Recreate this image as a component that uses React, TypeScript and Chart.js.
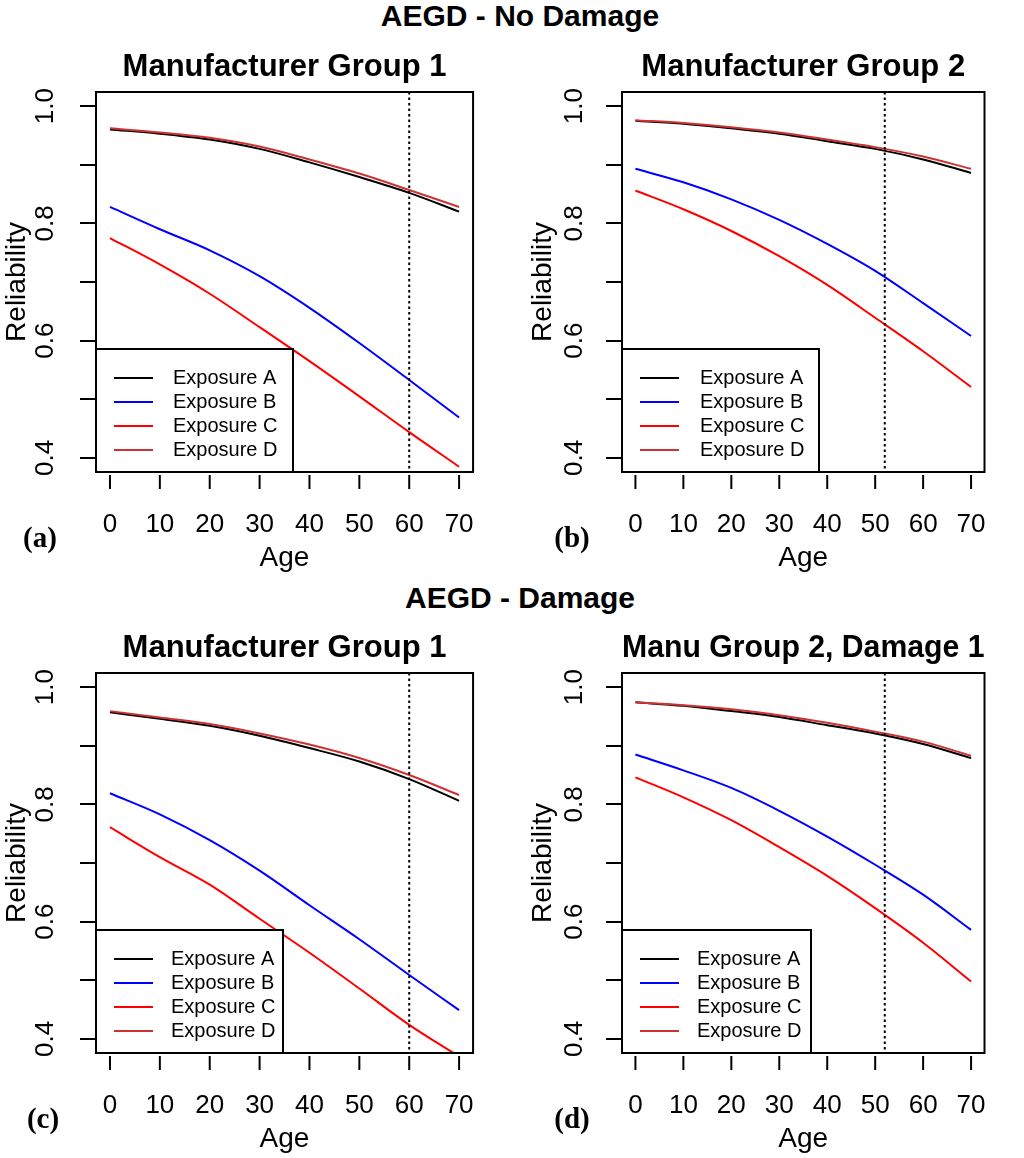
import React, { useEffect, useRef } from "react";
import { Chart, registerables } from "chart.js";

Chart.register(...registerables);

const ages = [0, 10, 20, 30, 40, 50, 60, 70];
const xTicks = [0, 10, 20, 30, 40, 50, 60, 70];
const yTicks = [0.4, 0.5, 0.6, 0.7, 0.8, 0.9, 1.0];
const exposureNames = ["Exposure A", "Exposure B", "Exposure C", "Exposure D"];
const exposureColors = ["#000000", "#0000ff", "#ff0000", "#cd3333"];
// lower order is painted last (on top)
const drawOrder = [3, 2, 1, 0];

// (a) No damage, manufacturer group 1
const noDmgG1A = [0.96, 0.953, 0.943, 0.927, 0.904, 0.879, 0.852, 0.82];
const noDmgG1B = [0.828, 0.79, 0.754, 0.71, 0.656, 0.596, 0.533, 0.469];
const noDmgG1C = [0.775, 0.73, 0.68, 0.623, 0.565, 0.505, 0.444, 0.385];
const noDmgG1D = [0.962, 0.955, 0.946, 0.931, 0.909, 0.885, 0.857, 0.828];

// (b) No damage, manufacturer group 2
const noDmgG2A = [0.975, 0.97, 0.962, 0.953, 0.94, 0.927, 0.909, 0.886];
const noDmgG2B = [0.893, 0.87, 0.841, 0.806, 0.765, 0.719, 0.664, 0.608];
const noDmgG2C = [0.856, 0.824, 0.787, 0.744, 0.695, 0.639, 0.582, 0.521];
const noDmgG2D = [0.976, 0.971, 0.964, 0.955, 0.943, 0.93, 0.914, 0.893];

// (c) Damage, manufacturer group 1
const dmgG1A = [0.957, 0.946, 0.934, 0.917, 0.896, 0.873, 0.843, 0.806];
const dmgG1B = [0.819, 0.783, 0.739, 0.687, 0.628, 0.57, 0.509, 0.449];
const dmgG1C = [0.761, 0.71, 0.663, 0.605, 0.547, 0.486, 0.424, 0.37];
const dmgG1D = [0.959, 0.948, 0.937, 0.921, 0.902, 0.879, 0.85, 0.816];

// (d) Manu group 2, damage 1
const dmgG2A = [0.974, 0.968, 0.959, 0.949, 0.935, 0.921, 0.903, 0.879];
const dmgG2B = [0.885, 0.858, 0.828, 0.789, 0.745, 0.697, 0.646, 0.586];
const dmgG2C = [0.846, 0.812, 0.773, 0.727, 0.678, 0.623, 0.564, 0.498];
const dmgG2D = [0.974, 0.969, 0.962, 0.952, 0.939, 0.924, 0.907, 0.883];

const SANS = '"Liberation Sans", Arial, Helvetica, sans-serif';
const SERIF = '"Liberation Serif", "Times New Roman", serif';

type PanelSpec = {
  title: string;
  series: number[][];
  refAge: number;
  left: number;
  top: number;
  height: number;
  yAxisW: number;
  padRight: number;
  padBottom: number;
  yTitlePad: number;
  yTickPad: number;
  legendW: number;
  legendTextX: number;
};

const panels: PanelSpec[] = [
  {
    title: "Manufacturer Group 1",
    series: [noDmgG1A, noDmgG1B, noDmgG1C, noDmgG1D],
    refAge: 60,
    left: 0, top: 40, height: 540,
    yAxisW: 96, padRight: 20, padBottom: 5,
    yTitlePad: 0, yTickPad: 16,
    legendW: 197, legendTextX: 77,
  },
  {
    title: "Manufacturer Group 2",
    series: [noDmgG2A, noDmgG2B, noDmgG2C, noDmgG2D],
    refAge: 52,
    left: 512, top: 40, height: 540,
    yAxisW: 110, padRight: 6, padBottom: 5,
    yTitlePad: 14, yTickPad: 13,
    legendW: 197, legendTextX: 78,
  },
  {
    title: "Manufacturer Group 1",
    series: [dmgG1A, dmgG1B, dmgG1C, dmgG1D],
    refAge: 60,
    left: 0, top: 621, height: 537,
    yAxisW: 96, padRight: 20, padBottom: 2,
    yTitlePad: 0, yTickPad: 16,
    legendW: 187, legendTextX: 75,
  },
  {
    title: "Manu Group 2, Damage 1",
    series: [dmgG2A, dmgG2B, dmgG2C, dmgG2D],
    refAge: 52,
    left: 512, top: 621, height: 537,
    yAxisW: 110, padRight: 6, padBottom: 2,
    yTitlePad: 14, yTickPad: 13,
    legendW: 189, legendTextX: 75,
  },
];

const Panel = ({ spec }: { spec: PanelSpec }) => {
  const ref = useRef<HTMLCanvasElement>(null);

  useEffect(() => {
    const canvas = ref.current;
    if (!canvas) return;

    // frame, x tick marks, dotted reference line and the R-style legend
    const deco = {
      id: "deco",
      afterDatasetsDraw(chart: any) {
        const { ctx, chartArea: a } = chart;
        const xs = chart.scales.x;
        ctx.save();
        ctx.strokeStyle = "#000";

        const vx = xs.getPixelForValue(spec.refAge);
        ctx.lineWidth = 2;
        ctx.setLineDash([2.5, 3]);
        ctx.beginPath();
        ctx.moveTo(vx, a.top);
        ctx.lineTo(vx, a.bottom);
        ctx.stroke();
        ctx.setLineDash([]);

        const lt = a.top + 257;
        ctx.fillStyle = "#fff";
        ctx.fillRect(a.left, lt, spec.legendW, a.bottom - lt);
        ctx.lineWidth = 2;
        ctx.strokeRect(a.left, lt, spec.legendW, a.bottom - lt);
        ctx.font = `20px ${SANS}`;
        ctx.textBaseline = "middle";
        ctx.textAlign = "left";
        chart.data.datasets.forEach((ds: any, i: number) => {
          const y = a.bottom - 94 + i * 24;
          ctx.strokeStyle = ds.borderColor;
          ctx.lineWidth = 2;
          ctx.beginPath();
          ctx.moveTo(a.left + 18, y);
          ctx.lineTo(a.left + 57, y);
          ctx.stroke();
          ctx.fillStyle = "#000";
          ctx.fillText(ds.label, a.left + spec.legendTextX, y);
        });

        ctx.strokeStyle = "#000";
        ctx.lineWidth = 2;
        ctx.strokeRect(a.left, a.top, a.right - a.left, a.bottom - a.top);

        xs.ticks.forEach((t: any) => {
          const px = xs.getPixelForValue(t.value);
          ctx.beginPath();
          ctx.moveTo(px, a.bottom + 3);
          ctx.lineTo(px, a.bottom + 17);
          ctx.stroke();
        });
        ctx.restore();
      },
    };

    const config: any = {
      type: "line",
      data: {
        datasets: spec.series.map((vals, i) => ({
          label: exposureNames[i],
          data: ages.map((age, j) => ({ x: age, y: vals[j] })),
          borderColor: exposureColors[i],
          backgroundColor: exposureColors[i],
          borderWidth: 2,
          pointRadius: 0,
          fill: false,
          cubicInterpolationMode: "monotone",
          order: drawOrder[i],
        })),
      },
      options: {
        responsive: false,
        animation: false,
        layout: { padding: { top: 0, left: 0, right: spec.padRight, bottom: spec.padBottom } },
        plugins: {
          legend: { display: false },
          tooltip: { enabled: false },
          title: {
            display: true,
            text: spec.title,
            fullSize: false,
            color: "#000",
            font: { family: SANS, size: 31, weight: "bold", lineHeight: 1.2 },
            padding: { top: 8.4, bottom: 6.4 },
          },
        },
        scales: {
          x: {
            type: "linear",
            min: -2.8,
            max: 72.8,
            border: { display: false },
            grid: { display: false, drawTicks: false },
            afterBuildTicks: (s: any) => {
              s.ticks = xTicks.map((v) => ({ value: v }));
            },
            ticks: {
              color: "#000",
              font: { family: SANS, size: 26 },
              padding: 37,
              autoSkip: false,
              minRotation: 0,
              maxRotation: 0,
            },
            title: {
              display: true,
              text: "Age",
              color: "#000",
              font: { family: SANS, size: 28, lineHeight: 1.2 },
              padding: { top: 0, bottom: 0 },
            },
            afterFit: (s: any) => {
              s.height = 103;
            },
          },
          y: {
            type: "linear",
            min: 0.376,
            max: 1.024,
            border: { display: false },
            grid: { display: true, drawOnChartArea: false, drawTicks: true, tickLength: 16, color: "#000", lineWidth: 2 },
            afterBuildTicks: (s: any) => {
              s.ticks = yTicks.map((v) => ({ value: v }));
            },
            ticks: {
              color: "#000",
              font: { family: SANS, size: 26 },
              padding: spec.yTickPad,
              autoSkip: false,
              minRotation: 90,
              maxRotation: 90,
              crossAlign: "center",
              callback: (v: number) => (Math.round(v * 10) % 2 === 0 ? v.toFixed(1) : ""),
            },
            title: {
              display: true,
              text: "Reliability",
              color: "#000",
              font: { family: SANS, size: 28, lineHeight: 1.2 },
              padding: { top: spec.yTitlePad, bottom: 0 },
            },
            afterFit: (s: any) => {
              s.width = spec.yAxisW;
            },
          },
        },
      },
      plugins: [deco],
    };

    const chart = new Chart(canvas, config);
    return () => chart.destroy();
  }, [spec]);

  return (
    <canvas
      ref={ref}
      width={512}
      height={spec.height}
      style={{ position: "absolute", left: spec.left, top: spec.top, width: 512, height: spec.height }}
    />
  );
};

const headStyle: React.CSSProperties = {
  position: "absolute",
  left: 0,
  width: 1040,
  textAlign: "center",
  fontFamily: SANS,
  fontWeight: "bold",
  fontSize: 30,
  lineHeight: "30px",
  color: "#000",
};

const tagStyle: React.CSSProperties = {
  position: "absolute",
  width: 60,
  textAlign: "center",
  fontFamily: SERIF,
  fontWeight: "bold",
  fontSize: 29,
  lineHeight: "29px",
  color: "#000",
};

const App = () => {
  return (
    <div style={{ position: "absolute", left: 0, top: 0, width: 1024, height: 1158, background: "#fff", overflow: "hidden" }}>
      <div style={{ ...headStyle, top: 1 }}>AEGD - No Damage</div>
      <div style={{ ...headStyle, top: 583 }}>AEGD - Damage</div>
      {panels.map((p, i) => (
        <Panel key={i} spec={p} />
      ))}
      <div style={{ ...tagStyle, left: 10, top: 523 }}>(a)</div>
      <div style={{ ...tagStyle, left: 542, top: 523 }}>(b)</div>
      <div style={{ ...tagStyle, left: 13, top: 1104 }}>(c)</div>
      <div style={{ ...tagStyle, left: 542, top: 1104 }}>(d)</div>
    </div>
  );
};

export default App;
